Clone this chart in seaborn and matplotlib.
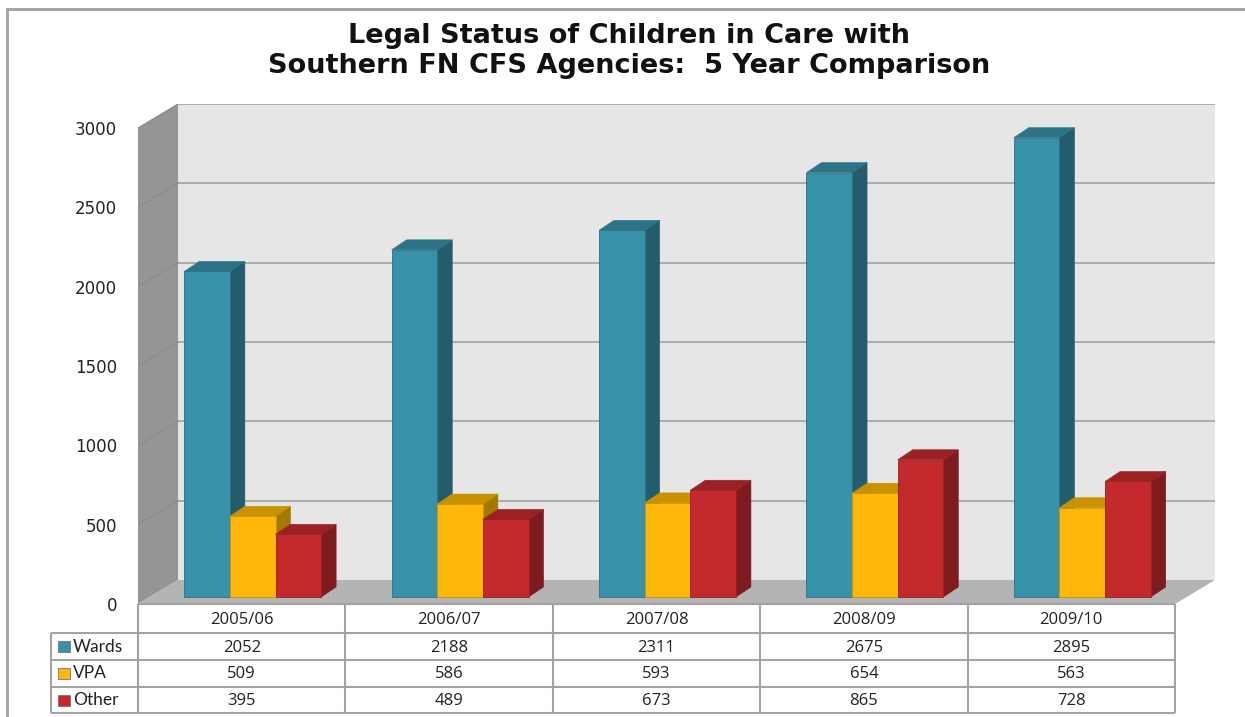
import numpy as np
import pandas as pd
import matplotlib
matplotlib.use("Agg")
import matplotlib.pyplot as plt
import matplotlib.transforms as mtransforms
from matplotlib.patches import Polygon, Rectangle
import seaborn as sns

# ---- data -------------------------------------------------------------
years = ["2005/06", "2006/07", "2007/08", "2008/09", "2009/10"]
series_names = ["Wards", "VPA", "Other"]
wards = [2052, 2188, 2311, 2675, 2895]
vpa = [509, 586, 593, 654, 563]
other = [395, 489, 673, 865, 728]
y_ticks = [0, 500, 1000, 1500, 2000, 2500, 3000]
title_lines = ["Legal Status of Children in Care with",
               "Southern FN CFS Agencies:  5 Year Comparison"]

# ---- colours (front face, top face, side face, outline) ----------------
face_colors = ["#3791A8", "#FFB70A", "#C3292D"]
top_colors = ["#2C7387", "#C99200", "#9C2125"]
side_colors = ["#245C6B", "#A47900", "#7E1B1E"]
edge_colors = ["#2B7083", "#CF9400", "#962024"]

wide = pd.DataFrame({"year": years, "Wards": wards, "VPA": vpa, "Other": other})
df = wide.melt(id_vars="year", var_name="status", value_name="children")

sns.set_style("white")
plt.rcParams["font.family"] = ["Lato", "DejaVu Sans"]

TABLE_FONT = ["Open Sans", "DejaVu Sans"]
LABEL_FONT = ["Lato", "DejaVu Sans"]
TITLE_FONT = ["DejaVu Sans"]

W, H = 1245, 717
fig = plt.figure(figsize=(W / 100, H / 100), dpi=100)
fig.patch.set_facecolor("white")


def px_rect(x0, y0, x1, y1):
    return [x0 / W, 1 - y1 / H, (x1 - x0) / W, (y1 - y0) / H]


# geometry of the pseudo-3D box (pixels)
LEFT, RIGHT, ZERO, TOP = 138, 1215, 604, 104
COL_W = 207.4
SCALE = 476 / 3000.0           # pixels per unit on the value axis
n = len(years)

ax = fig.add_axes(px_rect(LEFT, TOP, RIGHT, ZERO))

sns.barplot(data=df, x="year", y="children", hue="status",
            hue_order=series_names, palette=face_colors, saturation=1,
            width=0.66, gap=0, errorbar=None, legend=False, ax=ax)

xmin = -0.5
xmax = -0.5 + (RIGHT - LEFT) / COL_W
ymax = (ZERO - TOP) / SCALE
ax.set_xlim(xmin, xmax)
ax.set_ylim(0, ymax)

DX = 40 / COL_W                # wall depth in data units
DY = 24 / SCALE
front_right = xmin + n

# back wall, left wall and floor
ax.add_patch(Rectangle((xmin + DX, DY), xmax - xmin - DX, y_ticks[-1],
                       facecolor="#E6E6E6", edgecolor="none", zorder=0))
ax.add_patch(Polygon([(xmin, 0), (xmin, y_ticks[-1]),
                      (xmin + DX, y_ticks[-1] + DY), (xmin + DX, DY)],
                     closed=True, facecolor="#959595", edgecolor="none", zorder=0.5))
ax.add_patch(Polygon([(xmin, 0), (front_right, 0), (xmax, DY), (xmin + DX, DY)],
                     closed=True, facecolor="#B4B4B4", edgecolor="none", zorder=1))
for v in y_ticks:
    if v > 0:
        ax.plot([xmin + DX, xmax], [v + DY, v + DY], color="#ACACAC",
                lw=1.4, zorder=0.6, solid_capstyle="butt")
        ax.plot([xmin, xmin + DX], [v, v + DY], color="#8A8A8A",
                lw=0.8, zorder=0.7)

# bars sit a little behind the front edge of the floor
shift = mtransforms.ScaledTranslation(11 / 100, 7 / 100, fig.dpi_scale_trans)
bar_trans = ax.transData + shift
BDX = 15 / COL_W               # bar depth in data units
BDY = 10 / SCALE

for k, cont in enumerate(ax.containers):
    for p in cont:
        x0, w, h = p.get_x(), p.get_width(), p.get_height()
        p.set_transform(bar_trans)
        p.set_zorder(3 + k)
        p.set_edgecolor(edge_colors[k])
        p.set_linewidth(0.6)
        side = Polygon([(x0 + w, 0), (x0 + w + BDX, BDY),
                        (x0 + w + BDX, h + BDY), (x0 + w, h)], closed=True,
                       facecolor=side_colors[k], edgecolor=side_colors[k],
                       lw=0.4, transform=bar_trans, zorder=3 + k - 0.01)
        top = Polygon([(x0, h), (x0 + w, h), (x0 + w + BDX, h + BDY),
                       (x0 + BDX, h + BDY)], closed=True,
                      facecolor=top_colors[k], edgecolor=top_colors[k],
                      lw=0.4, transform=bar_trans, zorder=3 + k - 0.01)
        ax.add_patch(side)
        ax.add_patch(top)

ax.set_yticks(y_ticks)
ax.set_yticklabels([str(v) for v in y_ticks], fontsize=12, color="#222222",
                   family="DejaVu Sans")
ax.tick_params(axis="y", length=0, pad=15)
ax.set_xticks([])
ax.set_xlabel("")
ax.set_ylabel("")
for s in ax.spines.values():
    s.set_visible(False)
ax.patch.set_visible(False)

# ---- data table and frame, drawn in pixel space ------------------------
tax = fig.add_axes([0, 0, 1, 1])
tax.set_xlim(0, W)
tax.set_ylim(H, 0)
tax.axis("off")
tax.patch.set_visible(False)

line_kw = dict(color="#A3A3A3", lw=1.5, solid_capstyle="butt")
LABEL_L = 51
row_edges = [ZERO, 633, 660, 687, 713]
col_edges = [LEFT + COL_W * i for i in range(n + 1)]

tax.plot([LEFT, col_edges[-1]], [row_edges[0]] * 2, **line_kw)
for y in row_edges[1:]:
    tax.plot([LABEL_L, col_edges[-1]], [y, y], **line_kw)
tax.plot([LABEL_L, LABEL_L], [row_edges[1], row_edges[-1]], **line_kw)
for x in col_edges:
    tax.plot([x, x], [row_edges[0], row_edges[-1]], **line_kw)

for i, yr in enumerate(years):
    cx = (col_edges[i] + col_edges[i + 1]) / 2
    tax.text(cx, (row_edges[0] + row_edges[1]) / 2 + 1.5, yr, ha="center",
             va="center", fontsize=12, color="#222222", family=TABLE_FONT)

series_values = [wards, vpa, other]
for r, (name, vals) in enumerate(zip(series_names, series_values)):
    cy = (row_edges[r + 1] + row_edges[r + 2]) / 2
    tax.add_patch(Rectangle((58, cy - 5.5), 12, 11, facecolor=face_colors[r],
                            edgecolor="#777777", lw=0.6))
    tax.text(73, cy, name, ha="left", va="center", fontsize=12.5,
             color="#222222", family=LABEL_FONT)
    for i, v in enumerate(vals):
        cx = (col_edges[i] + col_edges[i + 1]) / 2
        tax.text(cx, cy + 1, str(v), ha="center", va="center", fontsize=12,
                 color="#222222", family=TABLE_FONT)

# outer frame
tax.plot([7, 7], [9, H], color="#A0A0A0", lw=2)
tax.plot([7, W], [9, 9], color="#A0A0A0", lw=2)

# title
for line, ty in zip(title_lines, [36, 66]):
    tax.text(629, ty, line, ha="center", va="center", fontsize=19.5,
             fontweight="bold", color="#111111", family=TITLE_FONT)

fig.savefig("out.png", dpi=100)
